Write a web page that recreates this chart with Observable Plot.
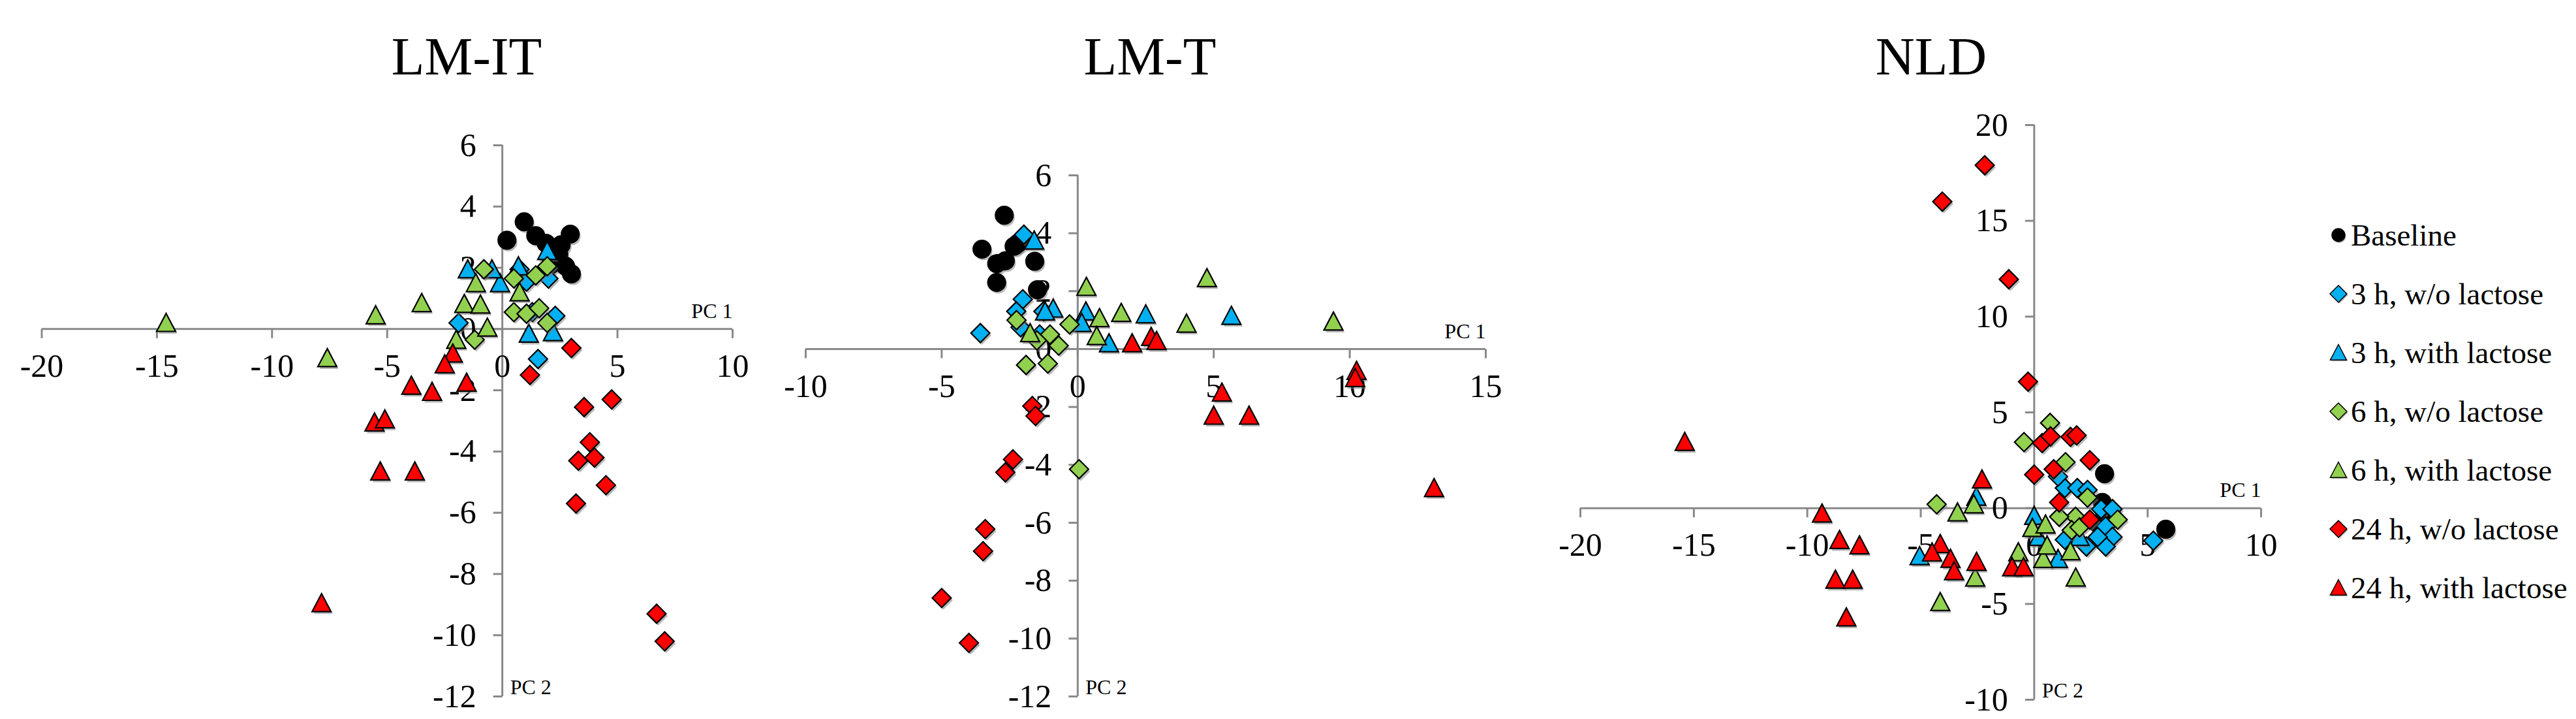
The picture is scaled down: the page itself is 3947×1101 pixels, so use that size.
<!DOCTYPE html>
<html>
<head>
<meta charset="utf-8">
<script src="https://cdn.jsdelivr.net/npm/d3@7"></script>
<script src="https://cdn.jsdelivr.net/npm/@observablehq/plot@0.6"></script>
<style>
  html, body { margin: 0; padding: 0; background: #fff; }
  #root { position: relative; width: 3947px; height: 1101px; overflow: hidden; background: #fff; font-family: "Liberation Serif", "Times New Roman", serif; }
  .panel { position: absolute; top: 0; }
  .title { position: absolute; top: 45px; font-size: 83px; line-height: 83px; transform: translateX(-50%); white-space: nowrap; color: #000; }
  .legrow { position: absolute; left: 3568px; height: 60px; display: flex; align-items: center; font-size: 47px; white-space: nowrap; color: #000; }
  .legrow svg { flex: none; }
  .legrow span { margin-left: 4px; }
</style>
</head>
<body>
<div id="root"></div>
<script>
// ---------- series definitions ----------
const seriesNames  = ["Baseline", "3 h, w/o lactose", "3 h, with lactose", "6 h, w/o lactose", "6 h, with lactose", "24 h, w/o lactose", "24 h, with lactose"];
const seriesColors = ["#000000", "#00B0F0", "#00B0F0", "#92D050", "#92D050", "#FF0000", "#FF0000"];
const seriesShapes = ["circle", "diamond", "triangle", "diamond", "triangle", "diamond", "triangle"];

// ---------- LM-IT (PC1, PC2) ----------
const lmitBaseline = [[0.2,2.9],[0.95,3.5],[1.45,3.05],[1.9,2.8],[2.45,2.45],[2.95,3.1],[2.75,2.05],[3.0,1.8],[2.1,2.1],[2.55,2.75]];
const lmit3hWo     = [[1.55,-0.98],[2.3,0.43],[2.0,1.65],[0.75,1.95],[-1.9,0.2],[1.05,1.55],[1.3,0.55]];
const lmit3hWith   = [[-1.5,1.95],[-0.1,1.5],[-0.45,1.95],[1.95,2.55],[1.15,-0.15],[2.2,-0.1],[0.7,2.05]];
const lmit6hWo     = [[-0.8,1.95],[0.5,1.65],[1.45,1.75],[1.95,2.05],[0.5,0.55],[1.05,0.5],[1.6,0.68],[1.95,0.2],[-1.2,-0.35]];
const lmit6hWith   = [[-14.6,0.2],[-7.6,-0.95],[-5.5,0.45],[-3.5,0.85],[-1.65,0.82],[-0.95,0.8],[-1.15,1.5],[-0.65,0.05],[-2.0,-0.35],[0.75,1.2]];
const lmit24hWo    = [[3.0,-0.62],[1.2,-1.5],[4.75,-2.3],[3.55,-2.55],[3.8,-3.7],[3.3,-4.3],[4.0,-4.2],[4.5,-5.1],[3.2,-5.7],[6.7,-9.3],[7.05,-10.2]];
const lmit24hWith  = [[-2.15,-0.8],[-2.5,-1.15],[-3.95,-1.85],[-3.05,-2.05],[-1.55,-1.75],[-5.55,-3.05],[-5.1,-2.95],[-5.3,-4.65],[-3.8,-4.65],[-7.85,-8.95]];
const lmitXTicks = [-20, -15, -10, -5, 0, 5, 10];
const lmitYTicks = [-12, -10, -8, -6, -4, -2, 0, 2, 4, 6];

// ---------- LM-T ----------
const lmtBaseline = [[-2.7,4.62],[-3.52,3.45],[-2.98,2.95],[-2.66,3.05],[-2.34,3.55],[-2.2,3.65],[-1.58,3.03],[-2.98,2.3],[-1.48,2.05]];
const lmt3hWo     = [[-1.98,3.95],[-2.02,1.72],[-2.26,1.3],[-3.58,0.55],[-1.26,1.3],[-2.1,0.75],[-1.4,0.5]];
const lmt3hWith   = [[-1.6,3.75],[-0.9,1.4],[0.3,1.3],[0.15,0.9],[2.5,1.2],[1.15,0.2],[5.65,1.15],[-1.2,1.3]];
const lmt6hWo     = [[-2.25,1.0],[-0.3,0.85],[-1.02,0.5],[-0.7,0.12],[-1.9,-0.55],[-1.1,-0.5],[0.05,-4.15],[-1.5,0.3]];
const lmt6hWith   = [[0.32,2.15],[0.8,1.07],[1.6,1.25],[0.7,0.45],[-1.75,0.55],[4.75,2.45],[9.4,0.95],[4.0,0.88]];
const lmt24hWo    = [[-1.67,-1.97],[-1.55,-2.31],[-2.38,-3.81],[-2.66,-4.26],[-3.4,-6.22],[-3.48,-6.98],[-5.0,-8.6],[-4.0,-10.15]];
const lmt24hWith  = [[2.0,0.2],[2.7,0.42],[2.9,0.28],[10.25,-0.75],[10.2,-1.0],[5.3,-1.5],[5.0,-2.3],[6.3,-2.3],[13.1,-4.8]];
const lmtXTicks = [-10, -5, 0, 5, 10, 15];
const lmtYTicks = [-12, -10, -8, -6, -4, -2, 0, 2, 4, 6];

// ---------- NLD ----------
const nldBaseline = [[3.1,1.8],[3.0,0.3],[5.8,-1.1],[3.4,-0.3],[2.8,-0.8]];
const nld3hWo     = [[5.25,-1.7],[1.35,1.05],[1.9,1.05],[2.35,0.95],[2.95,-0.05],[3.45,-0.05],[3.15,-0.95],[3.45,-1.5],[2.3,-2.0],[3.15,-2.0],[2.8,-1.5],[1.35,-1.65],[1.05,1.65]];
const nld3hWith   = [[-5.05,-2.5],[0.0,-0.4],[1.05,-2.65],[-2.55,0.6],[2.0,-1.5],[0.2,-1.5]];
const nld6hWo     = [[-0.45,3.45],[0.7,4.45],[1.38,2.4],[2.35,0.55],[1.82,-0.45],[3.68,-0.6],[1.65,-1.15],[-4.3,0.2],[1.1,-0.45],[2.0,-1.0]];
const nld6hWith   = [[-3.38,-0.22],[-2.66,0.2],[-4.14,-4.9],[-2.6,-3.62],[-0.7,-2.3],[0.4,-2.65],[1.83,-3.62],[-0.08,-1.03],[1.6,-2.25],[0.5,-0.85],[0.57,-1.95]];
const nld24hWo    = [[-2.18,17.9],[-4.05,16.0],[-1.12,11.95],[-0.27,6.6],[0.35,3.4],[0.72,3.75],[1.6,3.72],[1.87,3.8],[2.45,2.5],[0.0,1.75],[0.86,2.03],[1.1,0.3],[2.45,-0.6]];
const nld24hWith  = [[-15.4,3.46],[-9.35,-0.28],[-8.58,-1.66],[-7.7,-1.94],[-8.76,-3.73],[-8.0,-3.73],[-8.28,-5.7],[-2.3,1.5],[-4.14,-1.87],[-4.5,-2.31],[-3.69,-2.64],[-3.53,-3.29],[-2.54,-2.8],[-0.97,-3.08],[-0.47,-3.08]];
const nldXTicks = [-20, -15, -10, -5, 0, 5, 10];
const nldYTicks = [-10, -5, 0, 5, 10, 15, 20];

const panelTitles = ["LM-IT", "LM-T", "NLD"];
const axisNames = ["PC 1", "PC 2"];

// ---------- symbols ----------
const rOf = (size) => Math.sqrt(size / Math.PI);
const symbols = {
  circle: {draw(c, size) { const r = rOf(size); c.moveTo(r, 0); c.arc(0, 0, r, 0, 2 * Math.PI); c.closePath(); }},
  diamond: {draw(c, size) { const r = rOf(size); c.moveTo(0, -r); c.lineTo(r, 0); c.lineTo(0, r); c.lineTo(-r, 0); c.closePath(); }},
  triangle: {draw(c, size) { const r = rOf(size); c.moveTo(0, -r); c.lineTo(r, r * 0.9); c.lineTo(-r, r * 0.9); c.closePath(); }}
};
const markerR = {circle: 13.5, diamond: 14.5, triangle: 14.5};
const tickDown = {draw(c) { c.moveTo(0, 0); c.lineTo(0, 14); }};
const tickLeft = {draw(c) { c.moveTo(0, 0); c.lineTo(-14, 0); }};

const AXIS = "#898989";

function makePanel(cfg) {
  const {series, xDomain, yDomain, xTicks, yTicks, width, height, margin} = cfg;
  const marks = [
    Plot.ruleY([0], {x1: xDomain[0], x2: xDomain[1], stroke: AXIS, strokeWidth: 3}),
    Plot.ruleX([0], {y1: yDomain[0], y2: yDomain[1], stroke: AXIS, strokeWidth: 3}),
    Plot.dot(xTicks, {x: d => d, y: 0, symbol: tickDown, r: 7, fill: "none", stroke: AXIS, strokeWidth: 3}),
    Plot.dot(yTicks, {x: 0, y: d => d, symbol: tickLeft, r: 7, fill: "none", stroke: AXIS, strokeWidth: 3}),
    Plot.text(xTicks, {x: d => d, y: 0, text: d => String(d), dy: 57, fontSize: 50, textAnchor: "middle", fill: "#000"}),
    Plot.text(yTicks, {x: 0, y: d => d, text: d => String(d), dx: -40, fontSize: 50, textAnchor: "end", fill: "#000"}),
    Plot.text([axisNames[0]], {x: xDomain[1], y: 0, text: d => d, dy: -27, fontSize: 32, textAnchor: "end", fill: "#000"}),
    Plot.text([axisNames[1]], {x: 0, y: yDomain[0], text: d => d, dx: 12, dy: -14, fontSize: 32, textAnchor: "start", fill: "#000"})
  ];
  series.forEach((data, i) => {
    const shape = seriesShapes[i];
    marks.push(Plot.dot(data, {x: d => d[0], y: d => d[1], symbol: symbols[shape], r: markerR[shape], fill: "#7f7f7f", fillOpacity: 0.55, stroke: "none", dx: 2.5, dy: 3.5}));
    marks.push(Plot.dot(data, {x: d => d[0], y: d => d[1], symbol: symbols[shape], r: markerR[shape], fill: seriesColors[i], stroke: "#000", strokeWidth: 2.2}));
  });
  return Plot.plot({
    width, height,
    marginLeft: margin[0], marginRight: margin[1], marginTop: margin[2], marginBottom: margin[3],
    x: {domain: xDomain, axis: null},
    y: {domain: yDomain, axis: null},
    style: {fontFamily: '"Liberation Serif", "Times New Roman", serif', background: "transparent", overflow: "visible"},
    marks
  });
}

const root = document.getElementById("root");
const panels = [
  {left: 0, width: 1180, margin: [63.5, 58, 222, 35], xDomain: [-20, 10], yDomain: [-12, 6], xTicks: lmitXTicks, yTicks: lmitYTicks,
   series: [lmitBaseline, lmit3hWo, lmit3hWith, lmit6hWo, lmit6hWith, lmit24hWo, lmit24hWith], titleX: 715},
  {left: 1180, width: 1150, margin: [54, 54, 268, 35], xDomain: [-10, 15], yDomain: [-12, 6], xTicks: lmtXTicks, yTicks: lmtYTicks,
   series: [lmtBaseline, lmt3hWo, lmt3hWith, lmt6hWo, lmt6hWith, lmt24hWo, lmt24hWith], titleX: 1762},
  {left: 2330, width: 1200, margin: [91, 66, 191, 30], xDomain: [-20, 10], yDomain: [-10, 20], xTicks: nldXTicks, yTicks: nldYTicks,
   series: [nldBaseline, nld3hWo, nld3hWith, nld6hWo, nld6hWith, nld24hWo, nld24hWith], titleX: 2959}
];
panels.forEach((p, k) => {
  const wrap = document.createElement("div");
  wrap.className = "panel";
  wrap.style.left = p.left + "px";
  wrap.appendChild(makePanel({...p, height: 1101}));
  root.appendChild(wrap);
  const t = document.createElement("div");
  t.className = "title";
  t.style.left = p.titleX + "px";
  t.textContent = panelTitles[k];
  root.appendChild(t);
});

// ---------- legend ----------
const legendRowY = [360, 450, 540, 630, 720, 810, 900];
const legendR = {circle: 10, diamond: 13, triangle: 12.5};
seriesNames.forEach((name, i) => {
  const row = document.createElement("div");
  row.className = "legrow";
  row.style.top = (legendRowY[i] - 30) + "px";
  const svg = d3.create("svg").attr("width", 30).attr("height", 30).attr("viewBox", "-15 -15 30 30");
  const shape = seriesShapes[i];
  const r = legendR[shape];
  const path = d3.path();
  symbols[shape].draw(path, r * r * Math.PI);
  svg.append("path").attr("d", path.toString()).attr("fill", "#7f7f7f").attr("fill-opacity", 0.55).attr("transform", "translate(1.5,2)");
  svg.append("path").attr("d", path.toString()).attr("fill", seriesColors[i]).attr("stroke", "#000").attr("stroke-width", 1.5);
  row.appendChild(svg.node());
  const span = document.createElement("span");
  span.textContent = name;
  row.appendChild(span);
  root.appendChild(row);
});
</script>
</body>
</html>
